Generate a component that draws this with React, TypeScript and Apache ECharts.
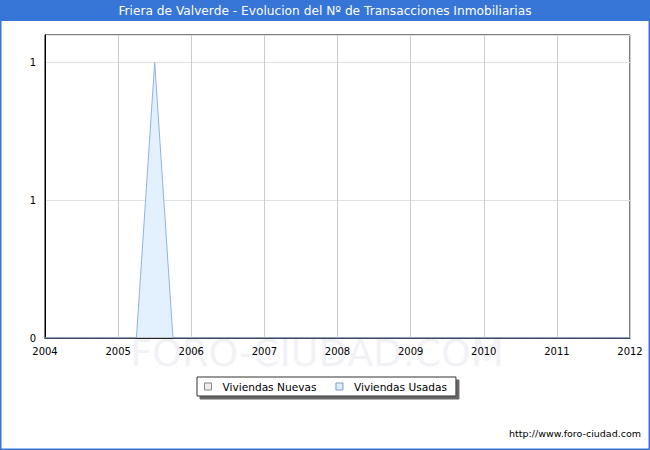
import React, { useEffect, useRef } from "react";
import * as echarts from "echarts";

const titleText = "Friera de Valverde - Evolucion del Nº de Transacciones Inmobiliarias";
const seriesNames = ["Viviendas Nuevas", "Viviendas Usadas"];
const quarters = [
  2004, 2004.25, 2004.5, 2004.75,
  2005, 2005.25, 2005.5, 2005.75,
  2006, 2006.25, 2006.5, 2006.75,
  2007, 2007.25, 2007.5, 2007.75,
  2008, 2008.25, 2008.5, 2008.75,
  2009, 2009.25, 2009.5, 2009.75,
  2010, 2010.25, 2010.5, 2010.75,
  2011, 2011.25, 2011.5, 2011.75,
  2012,
];
const nuevas = [
  0, 0, 0, 0,
  0, 0, 0, 0,
  0, 0, 0, 0,
  0, 0, 0, 0,
  0, 0, 0, 0,
  0, 0, 0, 0,
  0, 0, 0, 0,
  0, 0, 0, 0,
  0,
];
const usadas = [
  0, 0, 0, 0,
  0, 0, 1, 0,
  0, 0, 0, 0,
  0, 0, 0, 0,
  0, 0, 0, 0,
  0, 0, 0, 0,
  0, 0, 0, 0,
  0, 0, 0, 0,
  0,
];
const xMin = 2004;
const xMax = 2012;
const yMax = 1.1;

const FONT = "DejaVu Sans";

export default function App() {
  const ref = useRef<HTMLDivElement>(null);
  useEffect(() => {
    document.body.style.margin = "0";
    if (!ref.current) return;
    const chart = echarts.init(ref.current, undefined, { renderer: "svg" });
    chart.setOption({
      animation: false,
      backgroundColor: "#ffffff",
      textStyle: { fontFamily: FONT },
      grid: {
        left: 45,
        right: 20,
        top: 35,
        bottom: 112,
        show: true,
        borderColor: "#000",
        borderWidth: 1,
        backgroundColor: "transparent",
      },
      xAxis: {
        type: "value",
        min: xMin,
        max: xMax,
        interval: 1,
        axisLine: { show: true, lineStyle: { color: "#000", width: 1 } },
        axisTick: { show: false },
        axisLabel: {
          color: "#000",
          fontSize: 10,
          fontFamily: FONT,
          margin: 8,
          formatter: (v: number) => String(v),
          showMinLabel: true,
          showMaxLabel: true,
        },
        splitLine: { show: true, lineStyle: { color: "#cccccc", width: 1 } },
      },
      yAxis: {
        type: "value",
        min: 0,
        max: yMax,
        interval: 0.5,
        axisLine: { show: true, lineStyle: { color: "#000", width: 1 } },
        axisTick: { show: false },
        axisLabel: {
          color: "#000",
          fontSize: 10,
          fontFamily: FONT,
          margin: 9,
          showMaxLabel: false,
          formatter: (v: number) => String(Math.round(v)),
        },
        splitLine: { show: true, lineStyle: { color: "#e2e2e2", width: 1 } },
      },
      legend: {
        left: 197,
        top: 377,
        orient: "horizontal",
        itemWidth: 7,
        itemHeight: 7,
        itemGap: 19,
        padding: [4, 9, 4, 7],
        borderColor: "#333",
        borderWidth: 1,
        backgroundColor: "#fff",
        shadowColor: "rgba(0,0,0,0.6)",
        shadowOffsetX: 3,
        shadowOffsetY: 3,
        shadowBlur: 0,
        textStyle: { fontSize: 10.6, color: "#000", fontFamily: FONT, padding: [0, 0, 0, 6] },
        data: [
          {
            name: seriesNames[0],
            icon: "rect",
            itemStyle: { color: "#eeeeee", borderColor: "#888", borderWidth: 1 },
          },
          {
            name: seriesNames[1],
            icon: "rect",
            itemStyle: { color: "#ddeeff", borderColor: "#7a9ccc", borderWidth: 1 },
          },
        ],
      },
      graphic: [
        {
          type: "rect",
          shape: { x: 0, y: 0, width: 650, height: 21 },
          style: { fill: "#3775d6" },
          silent: true,
        },
        {
          type: "text",
          x: 325,
          y: 11,
          style: {
            text: titleText,
            fill: "#ffffff",
            font: `12.2px "${FONT}"`,
            align: "center",
            verticalAlign: "middle",
          },
          silent: true,
        },
        {
          type: "rect",
          shape: { x: 0.5, y: 0.5, width: 649, height: 449 },
          style: { fill: "none", stroke: "#3775d6", lineWidth: 2 },
          silent: true,
        },
        {
          type: "text",
          x: 317,
          y: 353,
          z: -1,
          style: {
            text: "FORO-CIUDAD.COM",
            fill: "rgba(215,215,230,0.35)",
            font: `38px "${FONT}"`,
            align: "center",
            verticalAlign: "middle",
          },
          silent: true,
        },
        {
          type: "text",
          x: 641,
          y: 433,
          style: {
            text: "http://www.foro-ciudad.com",
            fill: "#000",
            font: `9.5px "${FONT}"`,
            align: "right",
            verticalAlign: "middle",
          },
          silent: true,
        },
      ],
      series: [
        {
          name: seriesNames[0],
          type: "line",
          data: quarters.map((q, i) => [q, nuevas[i]]),
          symbol: "none",
          lineStyle: { color: "#999999", width: 1 },
          itemStyle: { color: "#eeeeee" },
          areaStyle: { color: "#eeeeee", opacity: 1 },
        },
        {
          name: seriesNames[1],
          type: "line",
          data: quarters.map((q, i) => [q, usadas[i]]),
          symbol: "none",
          lineStyle: { color: "#8fb1ea", width: 1 },
          itemStyle: { color: "#e3f1ff" },
          areaStyle: { color: "#e3f1ff", opacity: 1 },
        },
      ],
    });
    return () => chart.dispose();
  }, []);
  return <div ref={ref} style={{ width: 650, height: 450 }} />;
}
